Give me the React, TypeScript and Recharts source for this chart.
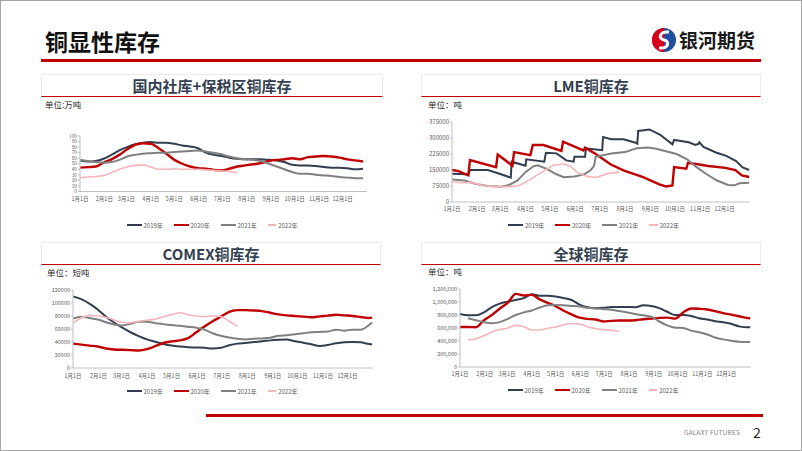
import React from 'react';
import { LineChart, Line, XAxis, YAxis, Legend } from 'recharts';

const monthTicks = [0, 31, 59, 90, 120, 151, 181, 212, 243, 273, 304, 334];
const monthLabels = ['1月1日', '2月1日', '3月1日', '4月1日', '5月1日', '6月1日', '7月1日', '8月1日', '9月1日', '10月1日', '11月1日', '12月1日'];
const years = ['2019年', '2020年', '2021年', '2022年'];
const yearKeys = ['y2019', 'y2020', 'y2021', 'y2022'];
const yearColors = ['#323E4F', '#C00000', '#808080', '#F7B4BB'];
const yearWidths = [2, 2.4, 2, 1.6];

// 国内社库+保税区 (万吨), every 10 days
const cnDays = [0, 10, 20, 30, 40, 50, 60, 70, 80, 90, 100, 110, 120, 130, 140, 150, 160, 170, 180, 190, 200, 210, 220, 230, 240, 250, 260, 270, 280, 290, 300, 310, 320, 330, 340, 350, 360];
const cn2019 = [56, 54, 55, 59, 66, 74, 80, 85, 88, 89, 88, 88, 86, 83, 81, 78, 70, 66, 64, 61, 59, 58, 58, 58, 57, 56, 53, 48, 47, 47, 46, 44, 43, 43, 42, 40, 41];
const cn2020 = [43, 44, 45, 52, 58, 66, 76, 84, 87, 86, 78, 68, 57, 50, 45, 42, 41, 39, 38, 41, 45, 47, 49, 51, 55, 57, 58, 60, 58, 62, 63, 64, 63, 61, 58, 56, 54];
const cn2021 = [57, 55, 53, 52, 53, 57, 63, 66, 68, 69, 70, 70, 71, 72, 73, 74, 72, 70, 67, 63, 60, 58, 57, 55, 50, 45, 40, 35, 32, 32, 30, 29, 28, 26, 25, 24, 24];
const cn2022 = [25, 26, 27, 29, 34, 40, 44, 47, 48, 44, 40, 40, 41, 40, 40, 40, 39, 38, 37, 36, 34];
const cnTicks = [0, 10, 20, 30, 40, 50, 60, 70, 80, 90, 100];

// LME (吨), break points per series
const lmeD2019 = [0, 10, 20, 22, 44, 60, 72, 73, 90, 91, 113, 115, 128, 140, 149, 150, 163, 164, 184, 185, 195, 210, 225, 227, 228, 242, 255, 270, 272, 290, 298, 302, 303, 308, 324, 336, 348, 356, 364];
const lme2019 = [132000, 131000, 129000, 150000, 150000, 130000, 114000, 189000, 170000, 200000, 189000, 231000, 228000, 195000, 189000, 212000, 212000, 251000, 243000, 305000, 294000, 294000, 278000, 273000, 333000, 340000, 315000, 270000, 291000, 280000, 268000, 272000, 280000, 258000, 231000, 216000, 192000, 162000, 150000];
const lmeD2020 = [0, 8, 20, 22, 54, 56, 74, 76, 96, 99, 112, 134, 136, 161, 163, 177, 194, 210, 234, 254, 262, 270, 272, 287, 289, 301, 314, 335, 347, 355, 364];
const lme2020 = [150000, 145000, 125000, 197000, 163000, 223000, 170000, 234000, 220000, 267000, 267000, 239000, 283000, 242000, 255000, 223000, 177000, 148000, 117000, 83000, 73000, 78000, 164000, 156000, 184000, 177000, 169000, 160000, 150000, 125000, 117000];
const lmeD2021 = [0, 15, 31, 44, 60, 70, 80, 90, 100, 105, 116, 128, 137, 150, 162, 170, 174, 176, 195, 212, 226, 240, 250, 262, 275, 288, 300, 312, 324, 338, 346, 352, 364];
const lme2021 = [106000, 101000, 83000, 75000, 72000, 80000, 100000, 140000, 168000, 172000, 155000, 130000, 116000, 120000, 130000, 150000, 170000, 212000, 227000, 234000, 252000, 255000, 250000, 238000, 225000, 200000, 162000, 130000, 102000, 80000, 78000, 88000, 90000];
const lmeD2022 = [0, 12, 24, 36, 50, 72, 84, 96, 112, 124, 137, 145, 153, 165, 177, 190, 205];
const lme2022 = [95000, 90000, 92000, 80000, 72000, 72000, 80000, 106000, 145000, 172000, 178000, 168000, 140000, 120000, 115000, 133000, 140000];
const lmeTicks = [0, 75000, 150000, 225000, 300000, 375000];

// COMEX (短吨) and 全球 (吨), every 10 days
const gridDays = [0, 10, 20, 30, 40, 50, 60, 70, 80, 90, 100, 110, 120, 130, 140, 150, 160, 170, 180, 190, 200, 210, 220, 230, 240, 250, 260, 270, 280, 290, 300, 310, 320, 330, 340, 350, 360, 364];
const cx2019 = [110000, 106000, 99000, 90000, 79000, 70000, 62000, 55000, 49000, 44000, 40500, 37000, 34500, 33000, 32000, 31500, 31000, 30000, 31000, 35000, 37500, 38500, 40000, 41000, 42500, 43500, 44000, 41000, 39000, 36500, 34000, 35500, 38000, 39500, 40000, 39500, 37000, 36500];
const cx2020 = [37500, 36000, 34500, 33000, 30000, 28500, 28000, 27500, 27000, 29000, 33500, 38500, 41000, 42500, 46000, 55000, 64000, 72000, 79000, 86500, 89000, 89000, 88500, 87500, 85000, 82500, 81000, 80000, 79000, 78000, 79500, 80500, 82000, 81000, 80000, 78500, 77000, 77500];
const cx2021 = [76000, 79000, 77000, 74500, 70500, 67000, 65500, 68000, 71000, 71000, 69000, 67500, 66000, 65000, 63500, 62000, 59000, 53500, 49500, 47000, 45000, 44000, 45000, 45500, 46500, 49500, 50500, 52000, 53500, 55000, 55500, 56000, 59000, 57500, 59000, 59000, 66000, 70000];
const cx2022 = [69000, 77000, 81000, 80500, 78000, 74000, 70000, 69500, 71500, 73500, 75000, 79000, 82000, 85000, 82000, 80000, 79000, 80000, 79000, 72000, 64000];
const cxTicks = [0, 20000, 40000, 60000, 80000, 100000, 120000];

const gl2019 = [815000, 795000, 795000, 840000, 920000, 975000, 1005000, 1030000, 1060000, 1120000, 1095000, 1095000, 1085000, 1060000, 1030000, 960000, 920000, 905000, 910000, 925000, 925000, 925000, 920000, 950000, 940000, 905000, 850000, 800000, 800000, 785000, 750000, 730000, 705000, 690000, 665000, 625000, 610000, 610000];
const gl2020 = [615000, 615000, 612000, 720000, 800000, 900000, 990000, 1125000, 1100000, 1110000, 1040000, 985000, 935000, 865000, 810000, 760000, 740000, 730000, 700000, 710000, 715000, 715000, 720000, 735000, 745000, 755000, 760000, 745000, 840000, 900000, 895000, 885000, 860000, 830000, 805000, 780000, 755000, 750000];
const gl2021 = [null, 750000, 720000, 690000, 675000, 690000, 740000, 800000, 840000, 870000, 915000, 950000, 955000, 950000, 940000, 930000, 910000, 900000, 890000, 880000, 860000, 840000, 815000, 795000, 775000, 700000, 640000, 605000, 600000, 560000, 535000, 500000, 455000, 425000, 405000, 390000, 385000, 385000];
const gl2022 = [null, 415000, 435000, 480000, 540000, 575000, 600000, 640000, 620000, 570000, 570000, 595000, 615000, 650000, 670000, 660000, 620000, 590000, 575000, 566000, 545000];
const glTicks = [0, 200000, 400000, 600000, 800000, 1000000, 1200000];

const toRows = (days: number[], s: (number | null)[][]) =>
  days.map((d, i) => ({ d, y2019: s[0][i] ?? null, y2020: s[1][i] ?? null, y2021: s[2][i] ?? null, y2022: s[3][i] ?? null }));
const toPoints = (days: number[], vals: number[]) => days.map((d, i) => ({ d, v: vals[i] }));

const cnRows = toRows(cnDays, [cn2019, cn2020, cn2021, cn2022]);
const cxRows = toRows(gridDays, [cx2019, cx2020, cx2021, cx2022]);
const glRows = toRows(gridDays, [gl2019, gl2020, gl2021, gl2022]);
const lmeSeries = [toPoints(lmeD2019, lme2019), toPoints(lmeD2020, lme2020), toPoints(lmeD2021, lme2021), toPoints(lmeD2022, lme2022)];

const font = "'Noto Sans CJK SC', 'Noto Sans', sans-serif";

function LegendRow({ shift }: { shift: number }) {
  return (
    <div style={{ height: 18, display: 'flex', justifyContent: 'center', alignItems: 'center', transform: `translateX(${shift}px)` }}>
      {years.map((y, i) => (
        <div key={y} style={{ width: i < 3 ? 47 : 30, display: 'flex', alignItems: 'center' }}>
          <span style={{ width: 15, height: yearWidths[i], background: yearColors[i], marginRight: 2 }} />
          <span style={{ fontSize: 6, color: '#595959', whiteSpace: 'nowrap' }}>{y}</span>
        </div>
      ))}
    </div>
  );
}

type ChartProps = {
  box: [number, number, number, number];
  margin: { top: number; right: number; left: number; bottom: number };
  yWidth: number;
  xHeight: number;
  yTicks: number[];
  yFont: number;
  yFmt?: (v: number) => string;
  tickSize: number;
  tickMargin: number;
  legendShift: number;
  rows?: any[];
  series?: any[][];
  lineType: 'linear' | 'monotone';
};

function SmallChart(p: ChartProps) {
  const yMax = p.yTicks[p.yTicks.length - 1];
  return (
    <div style={{ position: 'absolute', left: p.box[0], top: p.box[1] }}>
      <LineChart width={p.box[2]} height={p.box[3]} data={p.rows} margin={p.margin}>
        <XAxis
          type="number"
          dataKey="d"
          domain={[0, 365]}
          ticks={monthTicks}
          interval={0}
          allowDataOverflow
          tickFormatter={(v: number) => monthLabels[monthTicks.indexOf(v)]}
          height={p.xHeight}
          tick={{ fontSize: 5.5, fill: '#595959' }}
          tickLine={false}
          tickSize={p.tickSize}
          tickMargin={p.tickMargin}
          axisLine={{ stroke: '#BFBFBF' }}
        />
        <YAxis
          type="number"
          domain={[0, yMax]}
          ticks={p.yTicks}
          interval={0}
          width={p.yWidth}
          tickFormatter={p.yFmt}
          tick={{ fontSize: p.yFont, fill: '#595959' }}
          tickSize={2}
          tickMargin={1}
          tickLine={{ stroke: '#BFBFBF' }}
          axisLine={{ stroke: '#BFBFBF' }}
        />
        <Legend verticalAlign="bottom" content={() => <LegendRow shift={p.legendShift} />} />
        {yearKeys.map((k, i) => (
          <Line
            key={k}
            type={p.lineType}
            dataKey={p.rows ? k : 'v'}
            data={p.series ? p.series[i] : undefined}
            stroke={yearColors[i]}
            strokeWidth={yearWidths[i]}
            dot={false}
            activeDot={false}
            isAnimationActive={false}
          />
        ))}
      </LineChart>
    </div>
  );
}

function Panel({ left, top, width, title }: { left: number; top: number; width: number; title: string }) {
  return (
    <div
      style={{
        position: 'absolute', left, top, width, height: 23, boxSizing: 'border-box',
        borderTop: '1px solid #ECECEC', borderLeft: '1px solid #ECECEC', borderRight: '1px solid #ECECEC',
        borderBottom: '1.5px solid #C00000', textAlign: 'center', fontSize: 15, fontWeight: 700,
        lineHeight: '21px', color: '#333F50',
      }}
    >
      {title}
    </div>
  );
}

function Unit({ left, top, text }: { left: number; top: number; text: string }) {
  return <div style={{ position: 'absolute', left, top, fontSize: 8.5, lineHeight: '12px', color: '#262626' }}>{text}</div>;
}

export default function App() {
  return (
    <div
      style={{
        position: 'absolute', left: 0, top: 0, width: 802, height: 451, boxSizing: 'border-box',
        border: '1px solid #A6A6A6', background: '#fff', fontFamily: font, overflow: 'hidden',
      }}
    >
      <div style={{ position: 'absolute', left: 44, top: 24, fontSize: 23, fontWeight: 700, color: '#111', lineHeight: '32px' }}>铜显性库存</div>
      <svg style={{ position: 'absolute', left: 650, top: 26 }} width="26" height="26" viewBox="0 0 26 26">
        <circle cx="13" cy="13" r="12" fill="#1F4E9E" />
        <path d="M13 1 A12 12 0 0 0 13 25 Z" fill="#D7001D" />
        <path d="M18 5 C8 4, 7 12, 13 13 C19 14, 18 22, 8 21" stroke="#fff" strokeWidth="3" fill="none" />
      </svg>
      <div style={{ position: 'absolute', left: 678, top: 25, fontSize: 19, fontWeight: 700, color: '#1a1a1a', lineHeight: '28px' }}>银河期货</div>
      <div style={{ position: 'absolute', left: 40, top: 58, width: 720, height: 2.5, background: '#C00000' }} />

      <Panel left={40} top={73} width={342} title="国内社库+保税区铜库存" />
      <Panel left={420} top={73} width={340} title="LME铜库存" />
      <Panel left={40} top={241} width={340} title="COMEX铜库存" />
      <Panel left={420} top={241} width={340} title="全球铜库存" />

      <Unit left={44} top={97} text="单位:万吨" />
      <Unit left={427} top={97} text="单位：吨" />
      <Unit left={46} top={265} text="单位：短吨" />
      <Unit left={427} top={264} text="单位：吨" />

      <SmallChart
        box={[40, 125, 340, 110]}
        margin={{ top: 10, right: 14, left: 0, bottom: 2 }}
        yWidth={39}
        xHeight={24.5}
        yTicks={cnTicks}
        yFont={4.8}
        tickSize={3}
        tickMargin={2.5}
        legendShift={8}
        rows={cnRows}
        lineType="monotone"
      />
      <SmallChart
        box={[410, 111, 350, 124]}
        margin={{ top: 10, right: 11, left: 0, bottom: 2 }}
        yWidth={41}
        xHeight={14}
        yTicks={lmeTicks}
        yFont={6}
        tickSize={2}
        tickMargin={3.5}
        legendShift={13}
        series={lmeSeries}
        lineType="linear"
      />
      <SmallChart
        box={[40, 279, 340, 124]}
        margin={{ top: 10, right: 8, left: 0, bottom: 4 }}
        yWidth={32}
        xHeight={14}
        yTicks={cxTicks}
        yFont={5.5}
        tickSize={3}
        tickMargin={3}
        legendShift={5}
        rows={cxRows}
        lineType="monotone"
      />
      <SmallChart
        box={[410, 278, 350, 124]}
        margin={{ top: 10, right: 10, left: 0, bottom: 4 }}
        yWidth={49}
        xHeight={14}
        yTicks={glTicks}
        yFont={5.5}
        yFmt={(v: number) => v.toLocaleString('en-US')}
        tickSize={3}
        tickMargin={2.5}
        legendShift={12}
        rows={glRows}
        lineType="monotone"
      />

      <div style={{ position: 'absolute', left: 205, top: 413, width: 557, height: 2.5, background: '#C00000' }} />
      <div style={{ position: 'absolute', left: 683, top: 426, fontSize: 6.5, color: '#7F7F7F', lineHeight: '10px', letterSpacing: 0.2 }}>GALAXY FUTURES</div>
      <div style={{ position: 'absolute', left: 752, top: 422, fontSize: 14, color: '#222', lineHeight: '18px' }}>2</div>
    </div>
  );
}
